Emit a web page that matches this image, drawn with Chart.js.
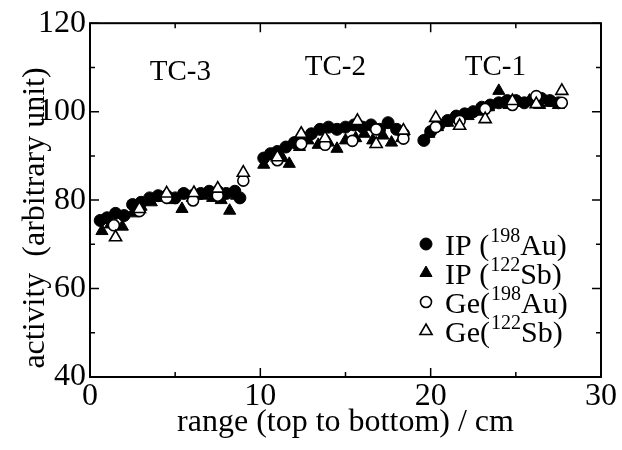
<!DOCTYPE html>
<html>
<head>
<meta charset="utf-8">
<script src="https://cdn.jsdelivr.net/npm/chart.js@4.4.0/dist/chart.umd.min.js"></script>
<style>
  html, body { margin: 0; padding: 0; background: #fff; }
</style>
</head>
<body>
<canvas id="myChart" width="622" height="450"></canvas>
<script>
// IP (198Au) - filled circles
var ipAuX = [0.6, 1.0, 1.5, 2.0, 2.5, 3.0, 3.5, 4.0, 4.5, 5.0, 5.5, 6.0, 6.5, 7.0, 7.5, 8.0, 8.5, 8.8,
             10.2, 10.6, 11.0, 11.5, 12.0, 12.5, 13.0, 13.5, 14.0, 14.5, 15.0, 15.5, 16.0, 16.5, 17.0, 17.5, 18.0, 18.4,
             19.6, 20.0, 20.5, 21.0, 21.5, 22.0, 22.5, 23.0, 23.5, 24.0, 24.5, 25.0, 25.5, 26.0, 26.5, 27.0, 27.5];
var ipAuY = [75.4, 76, 77, 76.5, 79, 79.5, 80.5, 81, 81, 80.5, 81.5, 81, 81.5, 82, 82, 81.5, 82, 80.5,
             89.5, 90.5, 91, 92, 93, 94, 95, 96, 96.5, 96, 96.5, 97, 96.5, 97, 96, 97.5, 96, 95,
             93.5, 95.5, 97, 98, 99, 99.5, 100, 101, 101.5, 102, 102.5, 102.5, 102, 102.5, 103, 102.5, 102];

// IP (122Sb) - filled triangles
var ipSbX = [0.7, 1.2, 1.9, 2.5, 3.0, 3.6, 4.2, 4.8, 5.4, 6.0, 6.6, 7.2, 7.7, 8.2, 8.6,
             10.2, 10.8, 11.3, 11.7, 12.3, 12.8, 13.4, 14.0, 14.5, 15.0, 15.6, 16.1, 16.6, 17.2, 17.7, 18.3,
             19.9, 20.4, 21.0, 21.6, 22.2, 22.8, 23.4, 24.0, 24.6, 25.2, 25.8, 26.4, 27.0, 27.5];
var ipSbY = [73, 74.5, 74, 77, 78.5, 79.5, 80.5, 80, 78, 80.5, 81, 80.5, 80, 77.6, 81,
             88, 90, 89.5, 88.2, 92, 93.5, 92.5, 93, 91.6, 93.5, 94, 95, 93.5, 94.6, 93, 94,
             95, 96.5, 97.5, 98.5, 99, 100, 101, 104.7, 101.5, 102, 102.5, 101.5, 102, 101.5];

// Ge(198Au) - open circles
var geAuX = [1.4, 2.9, 4.5, 6.05, 7.5, 9.0, 11.0, 12.4, 13.8, 15.4, 16.8, 18.4, 20.3, 21.7, 23.2, 24.8, 26.2, 27.7];
var geAuY = [74.3, 77.5, 80.5, 79.9, 81, 84.4, 89, 92.7, 92.5, 93.4, 96, 93.9, 96.5, 97.9, 100.6, 101.5, 103.5, 102];

// Ge(122Sb) - open triangles
var geSbX = [1.5, 2.9, 4.5, 6.1, 7.5, 9.0, 11.0, 12.4, 13.8, 15.7, 16.8, 18.4, 20.3, 21.7, 23.2, 24.8, 26.2, 27.7];
var geSbY = [71.6, 78, 81.5, 81.6, 82.6, 86.2, 89.7, 95, 94, 97.9, 92.7, 95.7, 98.6, 96.8, 98.3, 102.4, 101.7, 104.7];

var xTicks = [0, 10, 20, 30];
var xMinor = [5, 15, 25];
var yTicks = [40, 60, 80, 100, 120];
var yMinor = [50, 70, 90, 110];

var sectionLabels = ["TC-3", "TC-2", "TC-1"];
var sectionX = [5.3, 14.4, 23.8];
var sectionY = [108.8, 110.0, 110.0];

var legendParts = [["IP (", "198", "Au)"], ["IP (", "122", "Sb)"], ["Ge(", "198", "Au)"], ["Ge(", "122", "Sb)"]];

var serif = "'Liberation Serif', 'Times New Roman', serif";

function pts(xs, ys) {
  return xs.map(function (x, i) { return { x: x, y: ys[i] }; });
}

var styles = [
  { pointStyle: "circle", radius: 6, bg: "#000", border: "#000", bw: 1 },
  { pointStyle: "triangle", radius: 7, bg: "#000", border: "#000", bw: 1 },
  { pointStyle: "circle", radius: 5.5, bg: "#fff", border: "#000", bw: 1.6 },
  { pointStyle: "triangle", radius: 7, bg: "#fff", border: "#000", bw: 1.6 },
];

var decor = {
  id: "decor",
  afterDatasetsDraw: function (chart) {
    var c = chart.ctx, a = chart.chartArea;
    var xs = chart.scales.x, ys = chart.scales.y;
    c.save();
    c.strokeStyle = "#000";
    c.lineWidth = 2;
    c.strokeRect(a.left, a.top, a.right - a.left, a.bottom - a.top);
    c.lineWidth = 1.5;
    c.beginPath();
    function xt(v, len) {
      var p = xs.getPixelForValue(v);
      c.moveTo(p, a.bottom); c.lineTo(p, a.bottom - len);
      c.moveTo(p, a.top); c.lineTo(p, a.top + len);
    }
    function yt(v, len) {
      var p = ys.getPixelForValue(v);
      c.moveTo(a.left, p); c.lineTo(a.left + len, p);
      c.moveTo(a.right, p); c.lineTo(a.right - len, p);
    }
    xTicks.forEach(function (v) { xt(v, 9); });
    xMinor.forEach(function (v) { xt(v, 5); });
    yTicks.forEach(function (v) { yt(v, 9); });
    yMinor.forEach(function (v) { yt(v, 5); });
    c.stroke();

    // axis titles
    c.fillStyle = "#000";
    c.font = "32px " + serif;
    c.textAlign = "center";
    c.textBaseline = "middle";
    c.fillText("range (top to bottom) / cm", (a.left + a.right) / 2, 423);
    c.save();
    c.translate(36, 218);
    c.rotate(-Math.PI / 2);
    c.fillText("activity  (arbitrary unit)", 0, 0);
    c.restore();

    // section labels
    c.font = "29px " + serif;
    sectionLabels.forEach(function (t, i) {
      c.fillText(t, xs.getPixelForValue(sectionX[i]), ys.getPixelForValue(sectionY[i]));
    });

    // legend
    c.textAlign = "left";
    c.textBaseline = "alphabetic";
    legendParts.forEach(function (parts, i) {
      var y = 244 + i * 29;
      var s = styles[i];
      c.fillStyle = s.bg;
      c.strokeStyle = s.border;
      c.lineWidth = s.bw;
      Chart.helpers.drawPoint(c, { pointStyle: s.pointStyle, radius: s.radius, borderWidth: s.bw }, 426, y);
      c.fillStyle = "#000";
      var x = 445, base = y + 11;
      c.font = "30px " + serif;
      c.fillText(parts[0], x, base);
      x += c.measureText(parts[0]).width + 1;
      c.font = "20px " + serif;
      c.fillText(parts[1], x, base - 13);
      x += c.measureText(parts[1]).width;
      c.font = "30px " + serif;
      c.fillText(parts[2], x, base);
    });
    c.restore();
  },
};

function makeSet(label, xs, ys, s, order) {
  return {
    label: label,
    data: pts(xs, ys),
    pointStyle: s.pointStyle,
    pointRadius: s.radius,
    pointHoverRadius: s.radius,
    backgroundColor: s.bg,
    borderColor: s.border,
    pointBorderWidth: s.bw,
    showLine: false,
    order: order,
  };
}

var ctx = document.getElementById("myChart").getContext("2d");
var myChart = new Chart(ctx, {
  type: "scatter",
  data: {
    datasets: [
      makeSet("IP (198Au)", ipAuX, ipAuY, styles[0], 3),
      makeSet("IP (122Sb)", ipSbX, ipSbY, styles[1], 2),
      makeSet("Ge(198Au)", geAuX, geAuY, styles[2], 1),
      makeSet("Ge(122Sb)", geSbX, geSbY, styles[3], 0),
    ],
  },
  options: {
    responsive: false,
    animation: false,
    devicePixelRatio: 1,
    layout: { padding: { top: 22, right: 21, left: 0, bottom: 0 } },
    plugins: { legend: { display: false }, tooltip: { enabled: false } },
    scales: {
      x: {
        type: "linear",
        min: 0,
        max: 30,
        afterBuildTicks: function (s) { s.ticks = xTicks.map(function (v) { return { value: v }; }); },
        afterFit: function (s) { s.height = 73; },
        grid: { display: false, drawTicks: false },
        border: { display: false },
        ticks: { color: "#000", padding: 0, font: { family: serif, size: 32 }, maxRotation: 0 },
      },
      y: {
        type: "linear",
        min: 40,
        max: 120,
        afterBuildTicks: function (s) { s.ticks = yTicks.map(function (v) { return { value: v }; }); },
        afterFit: function (s) { s.width = 90; },
        grid: { display: false, drawTicks: false },
        border: { display: false },
        ticks: { color: "#000", padding: 4, font: { family: serif, size: 32 } },
      },
    },
  },
  plugins: [decor],
});
</script>
</body>
</html>
